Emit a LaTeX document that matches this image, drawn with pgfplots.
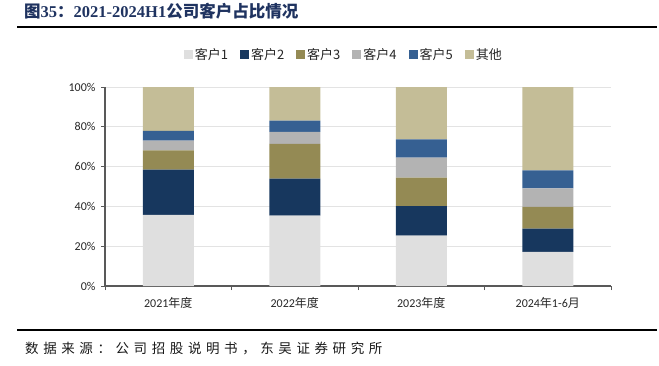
\documentclass[border=0pt]{standalone}
\usepackage{fontspec}
\usepackage{pgfplots}
\pgfplotsset{compat=1.18}
\usepackage{pgfplotstable}
\setmainfont{Carlito}
\newfontfamily\cjk{Noto Sans CJK SC}
\newfontfamily\ttl{Liberation Serif}
\newfontfamily\cjksrc[LetterSpace=34]{Noto Sans CJK SC}
\definecolor{cA}{HTML}{DFDFDF}
\definecolor{cB}{HTML}{17375E}
\definecolor{cC}{HTML}{948A54}
\definecolor{cD}{HTML}{B3B3B3}
\definecolor{cE}{HTML}{366092}
\definecolor{cF}{HTML}{C4BD97}
\definecolor{titleblue}{HTML}{1F3360}
\definecolor{axgray}{HTML}{595959}
\definecolor{gridgray}{HTML}{E3E3E3}
\pgfplotstableread{
x c1 c2 c3 c4 c5 other
0 35.7 22.8 9.7 4.9 4.8 22.1
1 35.4 18.6 17.4 6.0 5.7 16.9
2 25.3 14.9 14.3 10.0 9.2 26.3
3 17.1 11.7 10.9 9.4 9.0 41.9
}\datatable
\begin{document}
\begin{tikzpicture}
\path[use as bounding box] (0pt,0pt) rectangle (659pt,365pt);
\node[anchor=base west, text=titleblue, inner sep=0pt, font=\fontsize{16.5}{16.5}\selectfont\bfseries] at (24pt,347pt) {{\cjk 图}\ttl 35{\cjk ：}2021-2024H1{\cjk 公司客户占比情况}};
\draw[line width=2pt] (17pt,338pt) -- (657pt,338pt);
\draw[line width=2pt] (17pt,35pt) -- (657pt,35pt);
\node[anchor=base west, inner sep=0pt, text=black!90, font=\fontsize{13.5}{13.5}\selectfont] at (25pt,12pt) {\cjksrc 数据来源：公司招股说明书，东吴证券研究所};
\begin{axis}[
  at={(105pt,79pt)}, anchor=south west,
  scale only axis, width=506pt, height=199pt,
  ybar stacked, bar width=51pt,
  xmin=-0.5, xmax=3.5, ymin=0, ymax=100,
  axis x line*=bottom, axis y line*=left,
  axis line style={color=axgray, line width=1.2pt},
  tick align=outside,
  xtick={0,1,2,3},
  xticklabels={2021{\cjk 年度},2022{\cjk 年度},2023{\cjk 年度},2024{\cjk 年}1-6{\cjk 月}},
  major x tick style={draw=none},
  minor xtick={-0.5,0.5,1.5,2.5,3.5},
  minor x tick style={color=axgray, line width=1pt},
  minor tick length=4pt,
  ytick={0,20,40,60,80,100},
  yticklabel={\pgfmathprintnumber{\tick}\%},
  major y tick style={color=axgray, line width=1pt},
  major tick length=4pt,
  ymajorgrids, grid style={color=gridgray, line width=1pt},
  /pgf/number format/assume math mode=true,
  ticklabel style={font=\fontsize{12}{12}\selectfont, text=black!85},
  xticklabel style={yshift=-4pt},
  yticklabel style={xshift=-2pt},
  legend style={at={(0.472,1.161)}, anchor=center, draw=none, fill=none,
    legend columns=6, font=\fontsize{13}{13}\selectfont\cjk, text=black!85,
    /tikz/every even column/.append style={column sep=10pt}},
  legend image code/.code={\fill[#1,draw=none] (0pt,-4.5pt) rectangle (9pt,4.5pt);},
]
\addplot[fill=cA, draw=none] table[x=x,y=c1]{\datatable};
\addplot[fill=cB, draw=none] table[x=x,y=c2]{\datatable};
\addplot[fill=cC, draw=none] table[x=x,y=c3]{\datatable};
\addplot[fill=cD, draw=none] table[x=x,y=c4]{\datatable};
\addplot[fill=cE, draw=none] table[x=x,y=c5]{\datatable};
\addplot[fill=cF, draw=none] table[x=x,y=other]{\datatable};
\legend{客户1,客户2,客户3,客户4,客户5,其他}
\end{axis}
\end{tikzpicture}
\end{document}
